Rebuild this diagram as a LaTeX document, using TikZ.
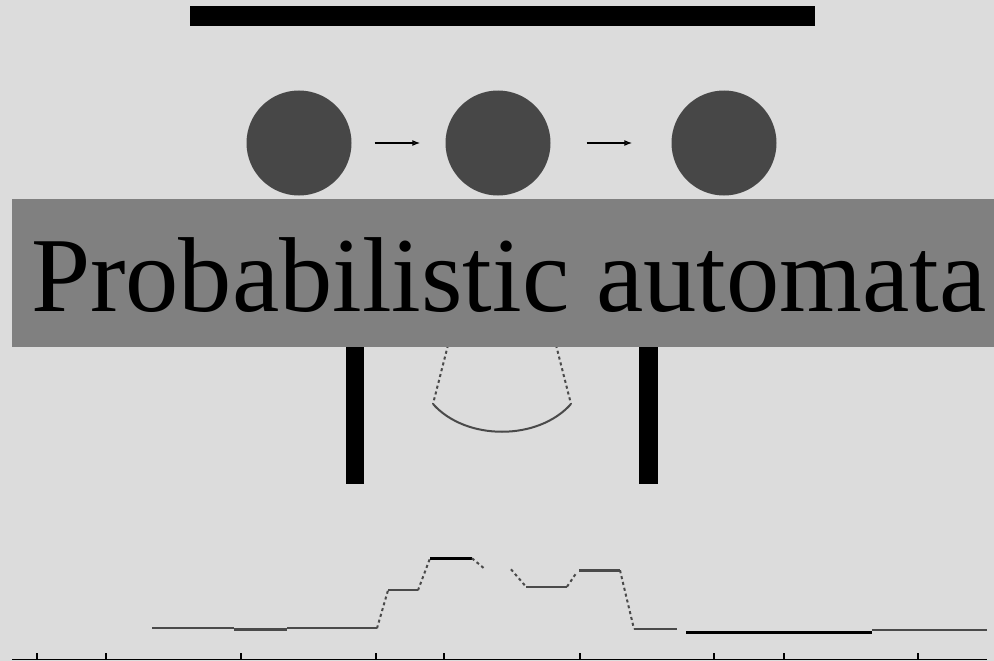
\documentclass[tikz,border=0pt]{standalone}
\usepackage{fontspec}
\setmainfont{Liberation Serif}
\usetikzlibrary{arrows.meta}
\definecolor{bg}{HTML}{DCDCDC}
\definecolor{disc}{HTML}{474747}
\definecolor{band}{HTML}{808080}
\definecolor{ink}{HTML}{4A4A4A}
\tikzset{
  statedisc/.style={circle, fill=disc, draw=none, minimum size=105pt, inner sep=0pt},
  flowarrow/.style={draw=black, line width=1.3pt, -{Latex[length=8pt,width=6pt,fill=disc]}},
  blackbar/.style={fill=black, draw=none},
  dashline/.style={draw=ink, line width=2pt, dash pattern=on 3pt off 3pt},
  plotline/.style={draw=ink, line width=2pt},
  thickline/.style={draw=black, line width=2.8pt},
  axisline/.style={draw=black, line width=1.3pt},
}
\begin{document}
\begin{tikzpicture}[x=1pt,y=-1pt]
\useasboundingbox[fill=bg] (0,0) rectangle (994,661);
% top bar
\fill[blackbar] (190,6) rectangle (815,26);
% states
\node[statedisc] (s1) at (299,143) {};
\node[statedisc] (s2) at (498,143) {};
\node[statedisc] (s3) at (724,143) {};
\draw[flowarrow, shorten <=23pt, shorten >=25pt] (s1) -- (s2);
\draw[flowarrow, shorten <=36pt, shorten >=39pt] (s2) -- (s3);
% vertical bars
\fill[blackbar] (346,340) rectangle (364,484);
\fill[blackbar] (639,340) rectangle (658,484);
% cone
\coordinate (cl) at (433,404);
\coordinate (cr) at (571,404);
\draw[dashline] (448,345) -- (cl);
\draw[dashline] (556,345) -- (cr);
\draw[draw=ink, line width=2pt] (cl) .. controls (466,441) and (538,441) .. (cr);
% banner
\node[fill=band, draw=none, minimum width=990pt, minimum height=148pt, inner sep=0pt, anchor=north west] (banner) at (11.5,199) {};
\node[anchor=base, inner sep=0pt, font=\fontsize{106.5}{110}\selectfont] (title) at (508.7,311) {Probabilistic automata};
% plot
\draw[plotline] (152,628.3) -- (234,628.3);
\draw[thickline, draw=ink] (234,629.3) -- (287,629.3);
\draw[plotline] (287,628.3) -- (377,628.3);
\draw[dashline] (377,628.3) -- (388,590.3);
\draw[plotline] (388,590.3) -- (418,590.3);
\draw[dashline] (418,590.3) -- (430,558.3);
\draw[thickline, line width=3.2pt] (430,558.3) -- (472,558.3);
\draw[dashline] (472,558.3) -- (484,568.3);
\draw[dashline] (511,569.3) -- (526,586.7);
\draw[plotline, line width=2.4pt] (526,586.7) -- (567,586.7);
\draw[dashline] (567,586.7) -- (577,572);
\draw[plotline, line width=2.4pt] (579,570.3) -- (620,570.3);
\draw[dashline] (620,570.3) -- (634,629);
\draw[plotline] (634,629) -- (677,629);
\draw[thickline, line width=3.4pt] (686,632.5) -- (872,632.5);
\draw[plotline, line width=1.6pt] (872,630) -- (987,630);
% axis
\draw[axisline] (12,659.5) -- (987,659.5);
\foreach \tx in {37,106,241,376,444,580,714,784,918}
  \draw[axisline, line width=1.6pt] (\tx,659.5) -- (\tx,653);
\end{tikzpicture}
\end{document}
